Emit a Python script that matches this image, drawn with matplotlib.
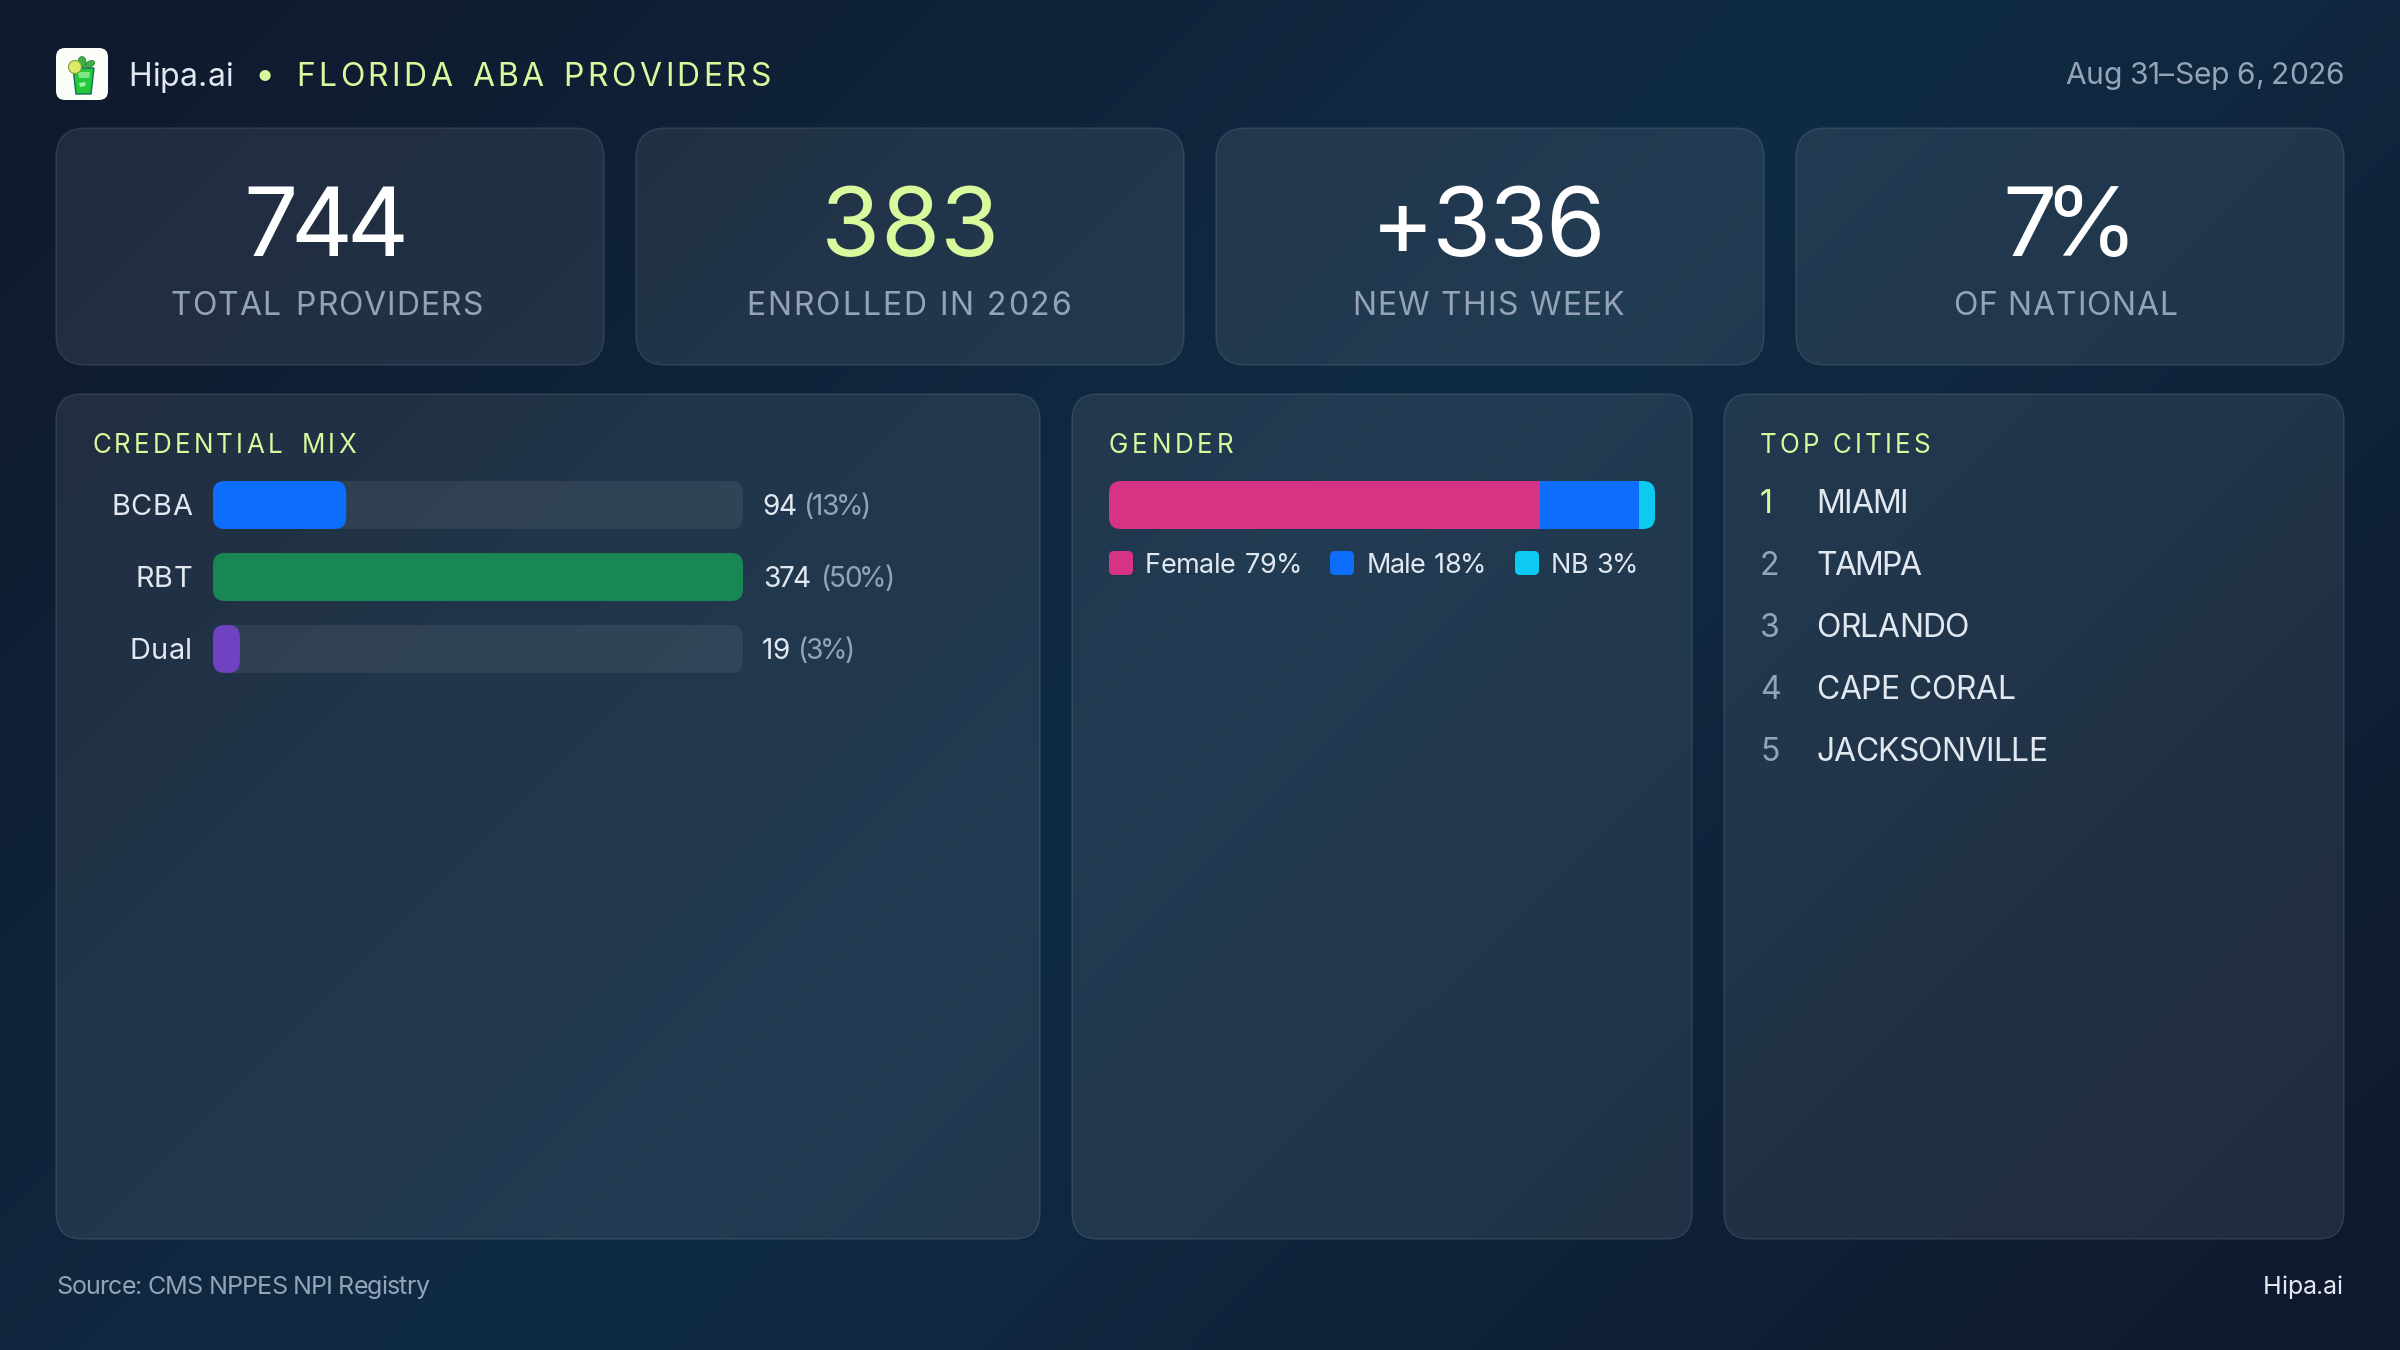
import matplotlib
matplotlib.use('Agg')
import matplotlib.pyplot as plt
from matplotlib.patches import FancyBboxPatch, Polygon, Circle, Ellipse
from matplotlib.text import Text
from matplotlib.colors import LinearSegmentedColormap
from matplotlib.transforms import Bbox
import numpy as np

# data
kpi_values = ['744', '383', '+336', '7%']
kpi_labels = ['TOTAL PROVIDERS', 'ENROLLED IN 2026', 'NEW THIS WEEK', 'OF NATIONAL']
cred_names = ['BCBA', 'RBT', 'Dual']
cred_counts = [94, 374, 19]
cred_pcts = ['(13%)', '(50%)', '(3%)']
gender_names = ['Female', 'Male', 'NB']
gender_pcts = [79, 18, 3]
city_names = ['MIAMI', 'TAMPA', 'ORLANDO', 'CAPE CORAL', 'JACKSONVILLE']

W, H = 2400, 1350
LIME = '#d9f99d'
LIGHT = '#e2e8f0'
MUTED = '#94a3b8'
cred_colors = ['#0d6efd', '#198754', '#6f42c1']
gender_colors = ['#d63384', '#0d6efd', '#0dcaf0']

plt.rcParams['font.family'] = ['Inter', 'DejaVu Sans']


class FitText(Text):
    # one text object, letters spread (or squeezed) to a given pixel width
    def __init__(self, *args, fit=None, word_gap=0, **kw):
        super().__init__(*args, **kw)
        self.fit = fit
        self.word_gap = word_gap

    def _offsets(self, renderer):
        s = self.get_text()
        fp = self.get_fontproperties()
        adv = [renderer.get_text_width_height_descent(s[:i], fp, False)[0] if i else 0
               for i in range(len(s) + 1)]
        n_sp = s.count(' ')
        spare = self.fit - adv[-1] - n_sp * self.word_gap
        track = spare / max(len(s) - 1, 1)
        off, extra = [], 0
        for i, ch in enumerate(s):
            off.append(adv[i] + track * i + extra)
            if ch == ' ':
                extra += self.word_gap
        return off

    def draw(self, renderer):
        x, y = self.get_transform().transform(self.get_position())
        if renderer.flipy():
            y = renderer.height - y
        gc = renderer.new_gc()
        gc.set_foreground(self.get_color())
        gc.set_antialiased(True)
        fp = self.get_fontproperties()
        for ch, dx in zip(self.get_text(), self._offsets(renderer)):
            if ch != ' ':
                renderer.draw_text(gc, x + dx, y, ch, fp, 0)
        gc.restore()

    def get_window_extent(self, renderer=None, dpi=None):
        b = super().get_window_extent(renderer, dpi)
        return Bbox.from_extents(b.x0, b.y0, b.x0 + self.fit, b.y1)


fig = plt.figure(figsize=(W / 100, H / 100), dpi=100)
ax = fig.add_axes([0, 0, 1, 1])
ax.set_xlim(0, W)
ax.set_ylim(H, 0)
ax.axis('off')

# 135deg page gradient
yy, xx = np.mgrid[0:H:4, 0:W:4]
t = 0.5 + ((xx - W / 2) + (yy - H / 2)) / (W + H)
bg = LinearSegmentedColormap.from_list('bg', ['#0f182c', '#0f2c45', '#0f182c'])
ax.imshow(t, cmap=bg, vmin=0, vmax=1, extent=[0, W, H, 0], aspect='auto', zorder=0)


def put(x, y, s, px, color, fit=None, weight='normal', word_gap=0, ha='left'):
    if fit is None:
        t = Text(x, y, s, fontsize=px * 0.72, color=color, weight=weight, ha=ha, va='baseline')
    else:
        t = FitText(x, y, s, fit=fit, word_gap=word_gap, fontsize=px * 0.72,
                    color=color, weight=weight, ha='left', va='baseline')
    ax.add_artist(t)
    t.set_transform(ax.transData)
    t.set_zorder(5)
    return t


def box(x0, y0, x1, y1, r):
    ax.add_patch(FancyBboxPatch((x0, y0), x1 - x0, y1 - y0,
                                boxstyle=f'round,pad=0,rounding_size={r}',
                                fc=(1, 1, 1, 0.08), ec=(1, 1, 1, 0.11), lw=1.0, zorder=1))


def px_axes(x0, y0, x1, y1):
    a = fig.add_axes([x0 / W, 1 - y1 / H, (x1 - x0) / W, (y1 - y0) / H])
    a.axis('off')
    a.patch.set_alpha(0)
    return a


# logo
ax.add_patch(FancyBboxPatch((56, 48), 52, 52, boxstyle='round,pad=0,rounding_size=9',
                            fc='#fafdf8', ec='none', zorder=2))
ax.add_patch(Ellipse((82, 62), 8, 11, fc='#3fae49', ec='#237a3a', lw=0.5, zorder=3))
ax.add_patch(Ellipse((90, 64), 10, 6, angle=-25, fc='#3fae49', ec='#237a3a', lw=0.5, zorder=3))
ax.add_patch(Polygon([(73, 68), (94, 68), (91, 94), (76, 94)], fc='#22c93a', ec='#17695c', lw=1, zorder=3))
ax.add_patch(Polygon([(78, 72), (90, 72), (89, 78), (79, 78)], fc='#7fe88a', ec='none', zorder=4))
ax.add_patch(Polygon([(79, 83), (86, 82), (85, 86), (80, 87)], fc='#9bf0a3', ec='none', zorder=4))
ax.add_patch(Circle((75, 67), 6.5, fc='#dfe96a', ec='#7da32c', lw=0.8, zorder=4))

# header
put(128, 86, 'Hipa.ai', 32, LIGHT, fit=105)
put(254.5, 86, '•', 36, LIME)
put(296, 86, 'FLORIDA ABA PROVIDERS', 32, LIME, fit=474, word_gap=4)
put(2065, 84, 'Aug 31–Sep 6, 2026', 30, MUTED, fit=279)

# kpi cards
card_x = [(56, 604), (636, 1184), (1216, 1764), (1796, 2344)]
value_x = [(243, 408), (821, 999), (1371, 1605), (2002, 2137)]
label_x = [(171, 482), (746, 1071), (1352, 1624), (1953, 2177)]
label_gap = [4, 0, 0, 0]
value_colors = ['white', LIME, 'white', 'white']
for i in range(4):
    box(card_x[i][0], 128, card_x[i][1], 365, 30)
    put(value_x[i][0], 256, kpi_values[i], 96, value_colors[i],
        fit=value_x[i][1] - value_x[i][0])
    put(label_x[i][0], 315, kpi_labels[i], 32, MUTED,
        fit=label_x[i][1] - label_x[i][0], word_gap=label_gap[i])

# panels
box(56, 394, 1040, 1239, 26)
box(1072, 394, 1692, 1239, 26)
box(1724, 394, 2344, 1239, 26)
put(92, 453, 'CREDENTIAL MIX', 26, LIME, fit=264, word_gap=6)
put(1109, 453, 'GENDER', 26, LIME, fit=124)
put(1760, 453, 'TOP CITIES', 26, LIME, fit=170)

# credential bars, x scale is the provider count
cx = px_axes(213, 481, 743, 673)
max_count = max(cred_counts)
cx.set_xlim(0, max_count)
cx.set_ylim(2 + 1 / 3, -1 / 3)
x_per_px = max_count / 530
y_per_px = (8 / 3) / 192


def round_bar(a, width, row, color, r_px=12):
    a.add_patch(FancyBboxPatch((0, row - 1 / 3), width, 2 / 3,
                               boxstyle=f'round,pad=0,rounding_size={r_px * x_per_px}',
                               mutation_aspect=y_per_px / x_per_px,
                               fc=color, ec='none', clip_on=False))


rows = [515, 587, 659]
name_x = [(111, 192), (135, 192), (130, 192)]
count_x = [(762, 797), (763, 810), (762, 790)]
pct_x = [(804, 871), (821, 895), (798, 855)]
for i, name in enumerate(cred_names):
    round_bar(cx, max_count, i, (1, 1, 1, 0.07))
    round_bar(cx, cred_counts[i], i, cred_colors[i])
    put(name_x[i][0], rows[i], name, 29, LIGHT, fit=name_x[i][1] - name_x[i][0])
    put(count_x[i][0], rows[i], str(cred_counts[i]), 28, LIGHT, fit=count_x[i][1] - count_x[i][0])
    put(pct_x[i][0], rows[i], cred_pcts[i], 28, MUTED, fit=pct_x[i][1] - pct_x[i][0])

# gender stacked bar
gx = px_axes(1109, 481, 1655, 529)
gx.set_xlim(0, sum(gender_pcts))
gx.set_ylim(0, 1)
gx_r = 12 * sum(gender_pcts) / 546
outline = FancyBboxPatch((0, 0), sum(gender_pcts), 1, boxstyle=f'round,pad=0,rounding_size={gx_r}',
                         mutation_aspect=(1 / 48) / (sum(gender_pcts) / 546),
                         fc='none', ec='none', transform=gx.transData)
gx.add_patch(outline)
left = 0
for val, col in zip(gender_pcts, gender_colors):
    b = gx.barh(0.5, val, height=1, left=left, color=col)
    b[0].set_clip_path(outline)
    left += val

swatch_x = [1109, 1330, 1515]
legend_x = [1145, 1367, 1551]
legend_w = [157, 119, 87]
for i in range(3):
    ax.add_patch(FancyBboxPatch((swatch_x[i], 551), 24, 24, boxstyle='round,pad=0,rounding_size=5',
                                fc=gender_colors[i], ec='none', zorder=3))
    put(legend_x[i], 573, f'{gender_names[i]} {gender_pcts[i]}%', 27, LIGHT,
        fit=legend_w[i], word_gap=3)

# cities
city_y = [513, 575, 637, 699, 761]
city_w = [92, 105, 153, 199, 231]
for i, name in enumerate(city_names):
    put(1760, city_y[i], str(i + 1), 32, LIME if i == 0 else MUTED)
    put(1816, city_y[i], name, 32, LIGHT, fit=city_w[i])

# footer
put(56, 1294, 'Source: CMS NPPES NPI Registry', 25, MUTED, fit=373)
put(2263, 1294, 'Hipa.ai', 25, LIGHT, fit=80)

fig.savefig('out.png', dpi=100)
